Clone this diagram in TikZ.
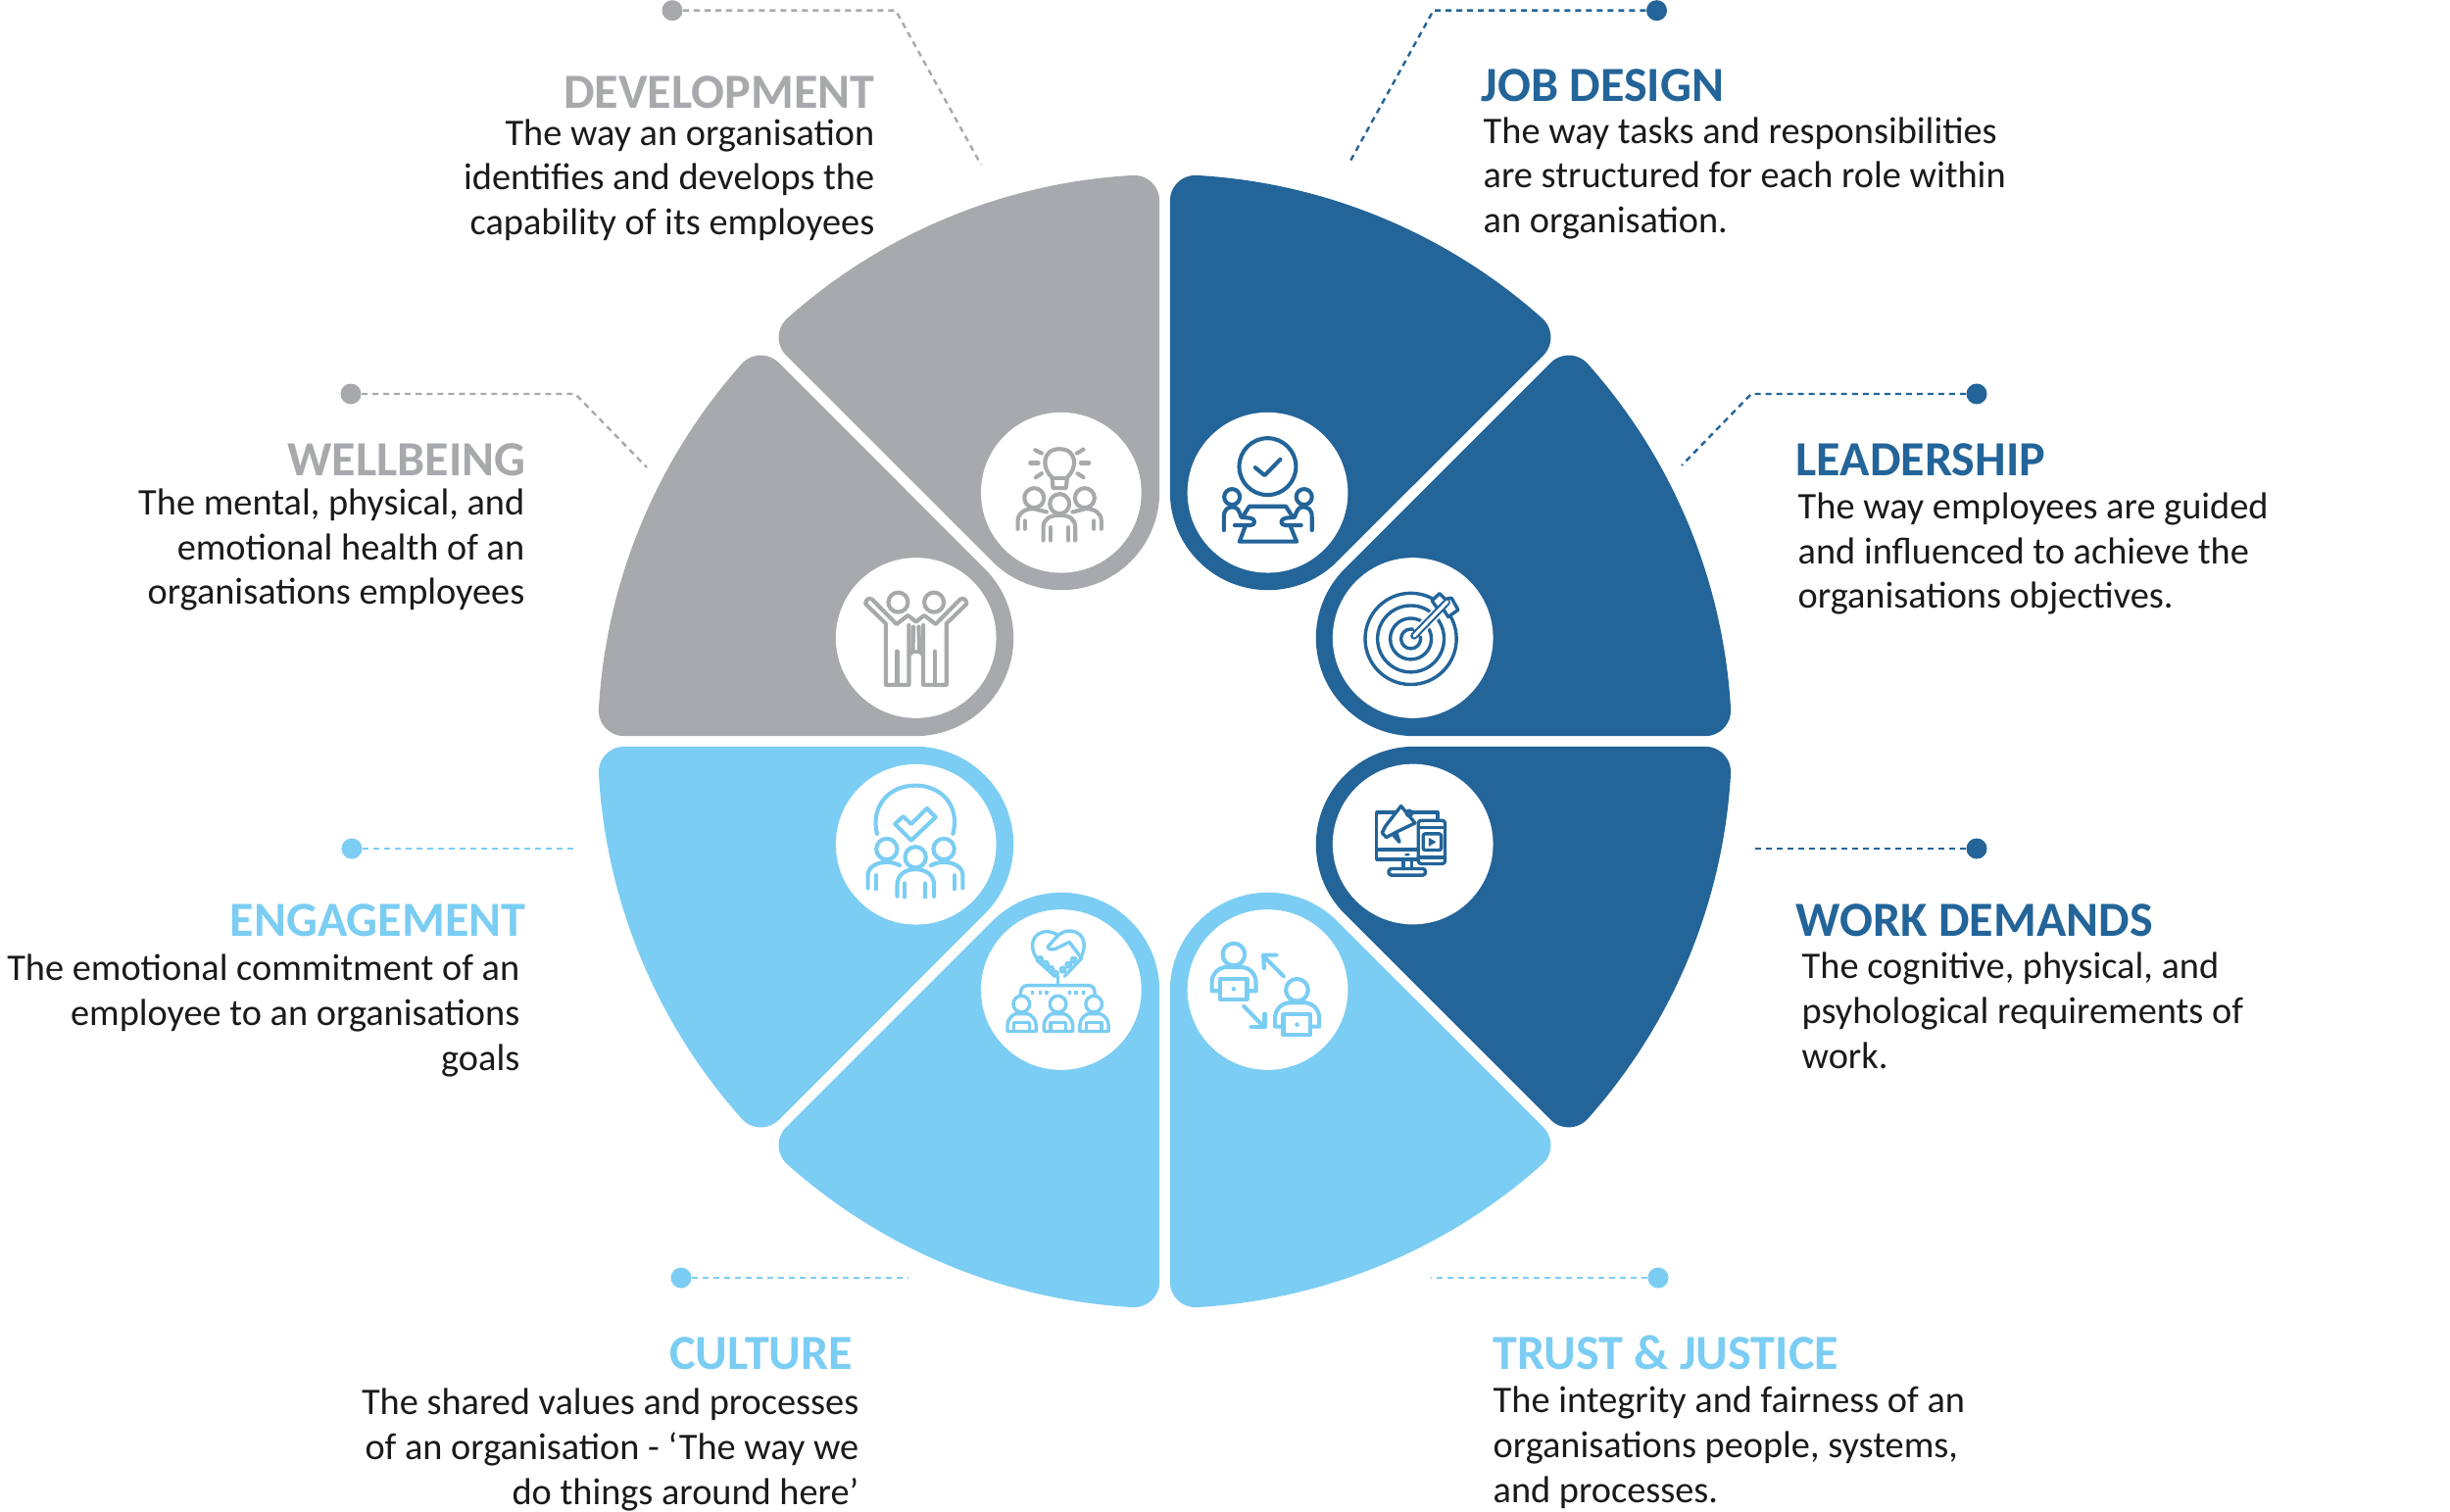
\documentclass[tikz,border=0pt]{standalone}
\usepackage{fontspec}
\setmainfont{Carlito}
\definecolor{cblue}{HTML}{236499}
\definecolor{cgray}{HTML}{A7A9AC}
\definecolor{clight}{HTML}{7BCDF3}
\definecolor{ctext}{HTML}{1A1A1A}
\newcommand{\segfill}[2]{\begin{scope}[shift={(1188.5,756.5)},x=.01cm,y=.01cm,#1]
\fill[#2] (5.35,254.3) -- (5.35,551.6) arc[start angle=180,end angle=86.75,radius=26]
 arc[start angle=86.75,end angle=48.25,radius=578.5]
 arc[start angle=48.25,end angle=-45,radius=26]
 -- (176.06,183.59) arc[start angle=-45,end angle=-180,radius=100] -- cycle;
\end{scope}}
\tikzset{
 disc/.style={circle,fill=white,inner sep=0pt,minimum size=1.636cm},
 dotnode/.style={circle,inner sep=0pt,minimum size=.21cm},
 leader/.style={line width=.024cm,dash pattern=on .06cm off .05cm},
 head/.style={inner sep=0pt,font=\fontsize{14.25}{16}\selectfont\bfseries},
 body/.style={inner sep=0pt,text=ctext,font=\fontsize{10.9}{12.95}\selectfont},
 zs/.style n args={2}{shift={(#1,#2)},x=.0033333cm,y=-.0033333cm},
 ic/.style={line width=.041cm,line cap=round,line join=round},
 icthin/.style={line width=.034cm,line cap=round,line join=round}
}
\begin{document}
\begin{tikzpicture}[x=.01cm,y=-.01cm]
\useasboundingbox[fill=white] (0,0) rectangle (2500,1543);
% wedges
\segfill{}{cblue}
\segfill{cm={0,1,1,0,(0,0)}}{cblue}
\segfill{yscale=-1,cm={0,1,1,0,(0,0)}}{cblue}
\segfill{yscale=-1}{clight}
\segfill{xscale=-1}{cgray}
\segfill{xscale=-1,cm={0,1,1,0,(0,0)}}{cgray}
\segfill{xscale=-1,yscale=-1,cm={0,1,1,0,(0,0)}}{clight}
\segfill{xscale=-1,yscale=-1}{clight}
% discs
\node[disc] (c-job) at (1293.5,502.7) {};
\node[disc] (c-lead) at (1441.7,651) {};
\node[disc] (c-work) at (1441.7,861.5) {};
\node[disc] (c-trust) at (1293.5,1010) {};
\node[disc] (c-dev) at (1082.8,502.7) {};
\node[disc] (c-well) at (934.7,651) {};
\node[disc] (c-eng) at (934.7,861.7) {};
\node[disc] (c-cult) at (1082.8,1010) {};
% job design icon
\begin{scope}[zs={1150}{150},ic,draw=cblue]
\draw (431,980) circle[radius=87];
\draw (393,983)--(422,1007)--(470,958);
\draw (322,1073) circle[radius=24];
\draw (543,1073) circle[radius=24];
\draw (297,1175)--(297,1135) .. controls (297,1112) and (308,1104) .. (325,1104) .. controls (340,1104) and (345,1120) .. (350,1135) -- (378,1138) .. controls (395,1140) and (395,1160) .. (378,1160) -- (330,1160);
\draw (567,1175)--(567,1135) .. controls (567,1112) and (556,1104) .. (539,1104) .. controls (524,1104) and (519,1120) .. (514,1135) -- (486,1138) .. controls (469,1140) and (469,1160) .. (486,1160) -- (534,1160);
\draw (357,1130)--(375,1102)--(487,1102)--(505,1130);
\draw (362,1165)--(345,1210)--(520,1210)--(502,1165);
\end{scope}
% leadership icon
\begin{scope}[zs={1180}{400},icthin,draw=cblue]
\draw (780,757) circle[radius=140];
\draw (780,757) circle[radius=102];
\draw (780,757) circle[radius=63];
\draw (780,757) circle[radius=30];
\draw[white,line width=.11cm,line cap=butt] (800,737)--(905,632);
\draw[fill=white] (845,640)--(868,618)--(885,635)--(905,632)--(925,668)--(895,690)--(882,670)--(862,665)--cycle;
\end{scope}
\begin{scope}[zs={1180}{400}]
\draw[cblue,line width=.075cm,line cap=round] (790,748)--(890,645);
\draw[white,line width=.032cm,line cap=round] (790,748)--(892,643);
\end{scope}
% work demands icon
\begin{scope}[zs={1180}{780},icthin,draw=cblue]
\draw (803,292)--(675,292)--(675,147)--(735,147);
\draw (780,147)--(862,147)--(862,172);
\draw (675,262)--(803,262);
\draw (757,292)--(757,320);
\draw (782,292)--(782,320);
\draw[rounded corners=.03cm] (712,320) rectangle (825,340);
\draw[rounded corners=.03cm] (803,172) rectangle (885,305);
\draw (803,193)--(885,193);
\draw (803,285)--(885,285);
\draw[rounded corners=.02cm] (818,213) rectangle (873,263);
\fill[cblue] (835,225)--(858,238)--(835,252)--cycle;
\fill[cblue] (769,277) ellipse[x radius=8,y radius=4];
\draw[fill=white] (750,128)--(793,180)--(735,208)--(705,224)--(692,210)--(702,190)--cycle;
\draw (725,215)--(745,238)--(735,208);
\draw (775,150) circle[radius=8];
\end{scope}
% trust icon
\begin{scope}[zs={1180}{780},ic,draw=clight]
\foreach \dx/\dy in {0/0,194/109}{
\begin{scope}[shift={(\dx,\dy)}]
\draw (237,583) circle[radius=34];
\draw (192,695)--(170,695)--(170,665) .. controls (172,640) and (190,625) .. (210,622) -- (265,622) .. controls (285,625) and (303,640) .. (305,665) -- (305,695)--(282,695);
\draw (195,658) rectangle (278,720);
\fill[clight] (237,689) circle[radius=7];
\end{scope}}
\draw (390,650)--(330,590);
\draw (330,625)--(328,585)--(368,585);
\draw (268,742)--(330,805);
\draw (290,805)--(332,805)--(332,765);
\end{scope}
% development icon
\begin{scope}[zs={800}{400},ic,draw=cgray]
\draw (822,262) .. controls (790,235) and (790,175) .. (845,175) .. controls (900,175) and (900,235) .. (868,262) -- (865,295) -- (825,295) -- cycle;
\draw (822,265)--(868,265);
\draw (770,178)--(790,188);
\draw (755,218)--(780,218);
\draw (772,262)--(790,250);
\draw (898,188)--(918,176);
\draw (910,218)--(935,218);
\draw (900,250)--(918,262);
\draw (767,325) circle[radius=30];
\draw (922,325) circle[radius=30];
\draw (845,343) circle[radius=30];
\draw (717,420)--(717,395) .. controls (717,370) and (740,358) .. (765,358) -- (805,368);
\draw (738,395)--(738,420);
\draw (973,420)--(973,395) .. controls (973,370) and (950,358) .. (925,358) -- (885,368);
\draw (950,395)--(950,420);
\draw (795,455)--(795,415) .. controls (795,390) and (815,378) .. (845,378) .. controls (875,378) and (893,390) .. (893,415) -- (893,455);
\draw (817,415)--(817,455);
\draw (872,415)--(872,455);
\end{scope}
% wellbeing icon
\begin{scope}[zs={800}{400},ic,draw=cgray]
\draw (350,645) circle[radius=30];
\draw (460,645) circle[radius=30];
\draw (383,715)--(383,898)--(312,898)--(312,710)--(250,650) .. controls (250,635) and (262,630) .. (270,636) -- (345,712)--(380,685)--(405,705)--(430,685)--(465,712)--(540,636) .. controls (548,630) and (560,635) .. (560,650) -- (498,710)--(498,898)--(427,898)--(427,715);
\draw (347,795)--(347,895);
\draw (462,795)--(462,895);
\draw (397,720)--(395,795)--(383,808);
\draw (413,720)--(415,795)--(427,808);
\draw (395,795)--(415,795);
\end{scope}
% engagement icon
\begin{scope}[zs={820}{770},ic,draw=clight]
\draw (225,243) .. controls (205,160) and (260,95) .. (343,95) .. controls (425,95) and (480,160) .. (458,243);
\draw (280,213)--(305,190)--(330,213)--(378,165)--(405,192)--(330,263)--cycle;
\draw (255,290) circle[radius=32];
\draw (430,290) circle[radius=32];
\draw (343,315) circle[radius=32];
\draw (197,410)--(197,370) .. controls (197,345) and (225,330) .. (255,330) .. controls (270,330) and (285,335) .. (295,340);
\draw (222,370)--(222,412);
\draw (488,410)--(488,370) .. controls (488,345) and (460,330) .. (430,330) .. controls (415,330) and (400,335) .. (390,340);
\draw (463,370)--(463,412);
\draw (287,435)--(287,400) .. controls (287,370) and (310,352) .. (343,352) .. controls (376,352) and (400,370) .. (400,400) -- (400,435);
\draw (310,395)--(310,437);
\draw (373,395)--(373,437);
\end{scope}
% culture icon
\begin{scope}[zs={820}{770},icthin,draw=clight]
\draw (715,625) .. controls (690,590) and (700,545) .. (745,543) .. controls (760,543) and (772,548) .. (780,555) .. controls (790,545) and (805,540) .. (820,541) .. controls (860,545) and (870,585) .. (850,622);
\draw (780,555)--(748,590) .. controls (750,600) and (770,600) .. (780,592) -- (815,575)--(852,625)--(800,680);
\draw (715,630)--(770,680);
\foreach \p in {(725,628),(742,642),(757,657),(772,672),(828,630),(812,645),(795,660)}{\draw \p circle[radius=7];}
\draw (780,680)--(780,708);
\draw (665,735) .. controls (665,718) and (672,708) .. (688,708) -- (872,708) .. controls (888,708) and (893,718) .. (893,735);
\foreach \q in {702,725,745,815,835,857}{\fill[clight] (\q-5,725) rectangle (\q+5,736);}
\foreach \dx in {0,112,222}{
\begin{scope}[shift={(\dx,0)}]
\draw (668,765) circle[radius=25];
\draw (625,849)--(625,830) .. controls (625,812) and (640,798) .. (650,795) -- (686,795) .. controls (698,798) and (713,812) .. (713,830) -- (713,849)--cycle;
\draw (645,849)--(645,822)--(692,822)--(692,849);
\end{scope}}
\end{scope}
% leaders
\node[dotnode,fill=cblue] (d-job) at (1690.5,10.7) {};
\coordinate (k-job) at (1462.6,10.7);
\coordinate (e-job) at (1376,167.7);
\draw[leader,cblue] (d-job)--(k-job)--(e-job);
\node[dotnode,fill=cblue] (d-lead) at (2017,402) {};
\coordinate (k-lead) at (1787,402);
\coordinate (e-lead) at (1716,475);
\draw[leader,cblue] (d-lead)--(k-lead)--(e-lead);
\node[dotnode,fill=cblue] (d-work) at (2017,866) {};
\coordinate (e-work) at (1787,866);
\draw[leader,cblue] (d-work)--(e-work);
\node[dotnode,fill=clight] (d-trust) at (1692,1304) {};
\coordinate (e-trust) at (1460,1304);
\draw[leader,clight] (d-trust)--(e-trust);
\node[dotnode,fill=cgray] (d-dev) at (686,10.7) {};
\coordinate (k-dev) at (914,10.7);
\coordinate (e-dev) at (1001,168);
\draw[leader,cgray] (d-dev)--(k-dev)--(e-dev);
\node[dotnode,fill=cgray] (d-well) at (358,402) {};
\coordinate (k-well) at (587,402);
\coordinate (e-well) at (660,477);
\draw[leader,cgray] (d-well)--(k-well)--(e-well);
\node[dotnode,fill=clight] (d-eng) at (359,866) {};
\coordinate (e-eng) at (590,866);
\draw[leader,clight] (d-eng)--(e-eng);
\node[dotnode,fill=clight] (d-cult) at (695,1304) {};
\coordinate (e-cult) at (927,1304);
\draw[leader,clight] (d-cult)--(e-cult);
% texts
\node[head,text=cblue,anchor=base west] (t-job) at (1511,104) {JOB DESIGN};
\node[body,anchor=base west,align=left] (b-job) at (1513,237.5) {The way tasks and responsibilities\\are structured for each role within\\an organisation.};
\node[head,text=cblue,anchor=base west] (t-lead) at (1832,486) {LEADERSHIP};
\node[body,anchor=base west,align=left] (b-lead) at (1834,621) {The way employees are guided\\and influenced to achieve the\\organisations objectives.};
\node[head,text=cblue,anchor=base west] (t-work) at (1832,955.5) {WORK DEMANDS};
\node[body,anchor=base west,align=left] (b-work) at (1838,1090) {The cognitive, physical, and\\psyhological requirements of\\work.};
\node[head,text=clight,anchor=base west] (t-trust) at (1523,1397) {TRUST \& JUSTICE};
\node[body,anchor=base west,align=left] (b-trust) at (1523,1533) {The integrity and fairness of an\\organisations people, systems,\\and processes.};
\node[head,text=cgray,anchor=base east] (t-dev) at (893,111) {DEVELOPMENT};
\node[body,anchor=base east,align=right] (b-dev) at (893,239.5) {The way an organisation\\identifies and develops the\\capability of its employees};
\node[head,text=cgray,anchor=base east] (t-well) at (537,486) {WELLBEING};
\node[body,anchor=base east,align=right] (b-well) at (536,617) {The mental, physical, and\\emotional health of an\\organisations employees};
\node[head,text=clight,anchor=base east] (t-eng) at (537,955) {ENGAGEMENT};
\node[body,anchor=base east,align=right] (b-eng) at (531,1092) {The emotional commitment of an\\employee to an organisations\\goals};
\node[head,text=clight,anchor=base east] (t-cult) at (871,1397) {CULTURE};
\node[body,anchor=base east,align=right] (b-cult) at (877,1535) {The shared values and processes\\of an organisation - ‘The way we\\do things around here’};
\end{tikzpicture}
\end{document}
